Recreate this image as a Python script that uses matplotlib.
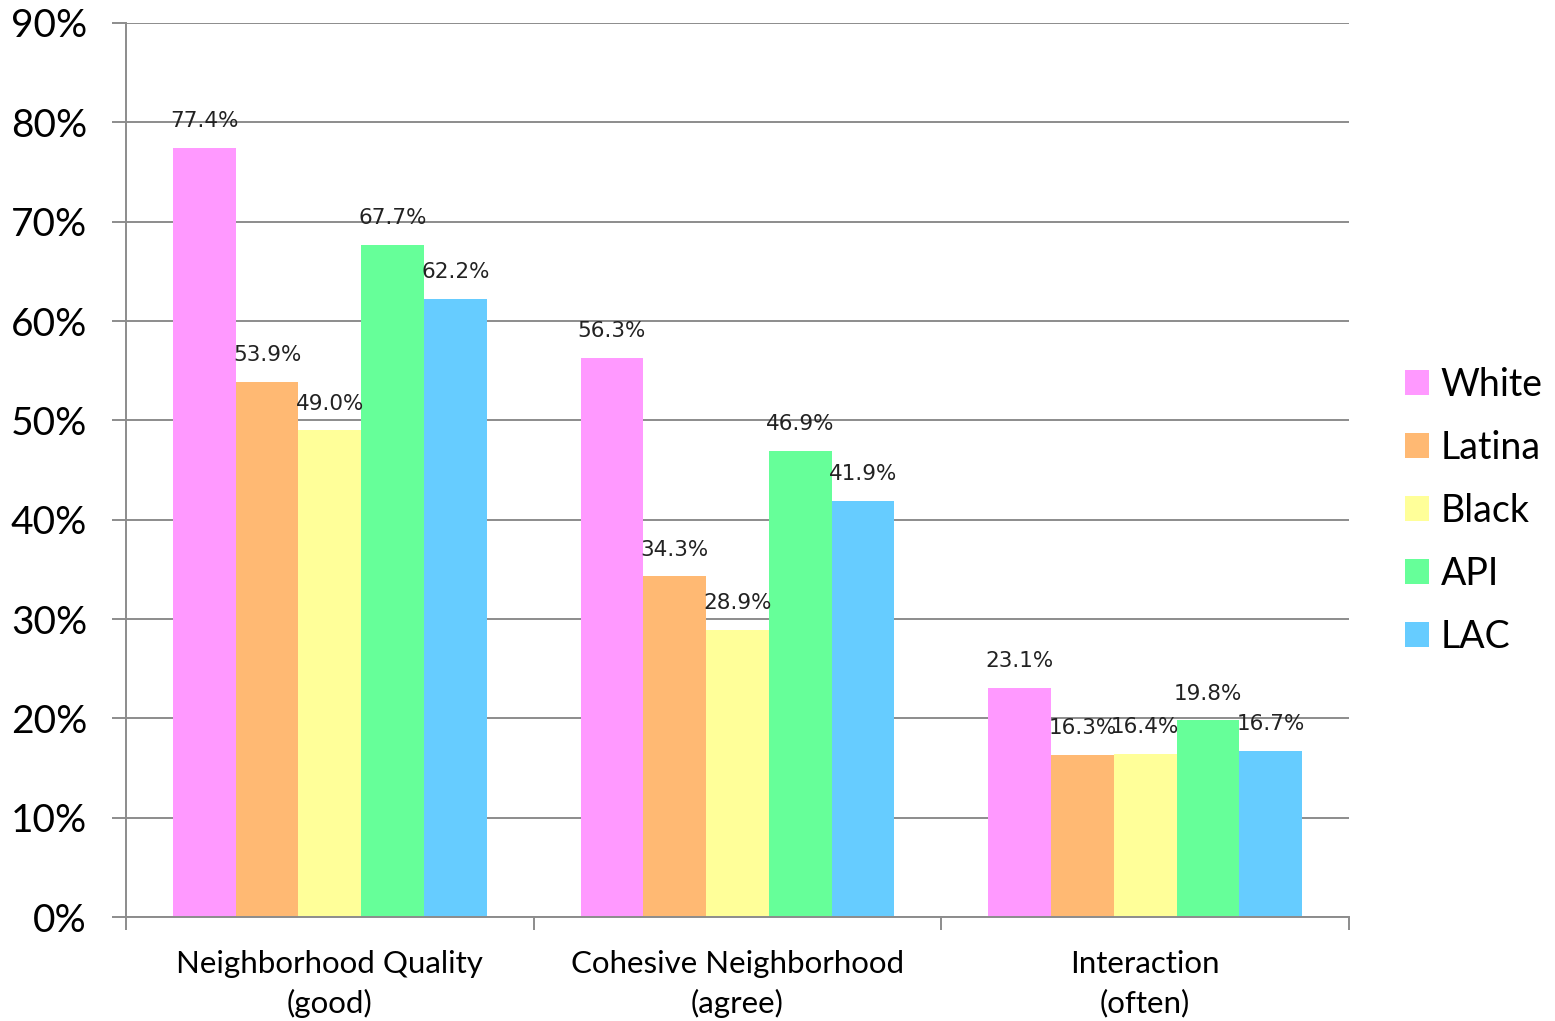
import matplotlib.pyplot as plt
import numpy as np

categories = ["Neighborhood Quality\n(good)", "Cohesive Neighborhood\n(agree)", "Interaction\n(often)"]
groups = ["White", "Latina", "Black", "API", "LAC"]
white = [77.4, 56.3, 23.1]
latina = [53.9, 34.3, 16.3]
black = [49.0, 28.9, 16.4]
api = [67.7, 46.9, 19.8]
lac = [62.2, 41.9, 16.7]
colors = ["#FF99FF", "#FFB973", "#FFFF99", "#66FF99", "#66CCFF"]

series = [white, latina, black, api, lac]

fig = plt.figure(figsize=(15.55, 10.21), dpi=100)
ax = fig.add_axes([0.081, 0.1018, 0.7865, 0.8757])

x = np.arange(len(categories))
w = 0.154
for i, (vals, name, c) in enumerate(zip(series, groups, colors)):
    pos = x + (i - 2) * w
    ax.bar(pos, vals, width=w, color=c, label=name, zorder=2)
    for p, v in zip(pos, vals):
        ax.annotate(f"{v:.1f}%", (p, v), xytext=(0, 12), textcoords="offset points",
                    ha="center", va="bottom", fontsize=15.5, color="#222222",
                    family="DejaVu Sans", zorder=3)

ax.set_xlim(-0.5, 2.5)
ax.set_ylim(0, 90)
ax.set_yticks(range(0, 91, 10))
ax.set_yticklabels([f"{t}%" for t in range(0, 91, 10)], family="Lato", fontsize=28)
ax.yaxis.grid(True, color="#8c8c8c", linewidth=1.4, zorder=0)
ax.tick_params(axis="y", length=10, color="#8c8c8c", width=1.4, pad=18)

# category labels at centers, tick marks at group boundaries
ax.set_xticks(x)
ax.set_xticklabels(categories, family="Lato", fontsize=22.5, linespacing=1.42)
ax.tick_params(axis="x", length=0, pad=24)
ax.set_xticks([-0.5, 0.5, 1.5, 2.5], minor=True)
ax.tick_params(axis="x", which="minor", length=9, color="#8c8c8c", width=1.4)

for s in ["top", "right"]:
    ax.spines[s].set_visible(False)
for s in ["left", "bottom"]:
    ax.spines[s].set_color("#8c8c8c")
    ax.spines[s].set_linewidth(1.4)

leg = ax.legend(loc="center left", bbox_to_anchor=(1405 / 1555, 1 - 511 / 1021),
                bbox_transform=fig.transFigure, frameon=False, borderpad=0, borderaxespad=0,
                prop={"family": "Lato", "size": 27}, handlelength=0.65, handleheight=0.65,
                handletextpad=0.3, labelspacing=0.72)

fig.savefig("out.png", dpi=100)
